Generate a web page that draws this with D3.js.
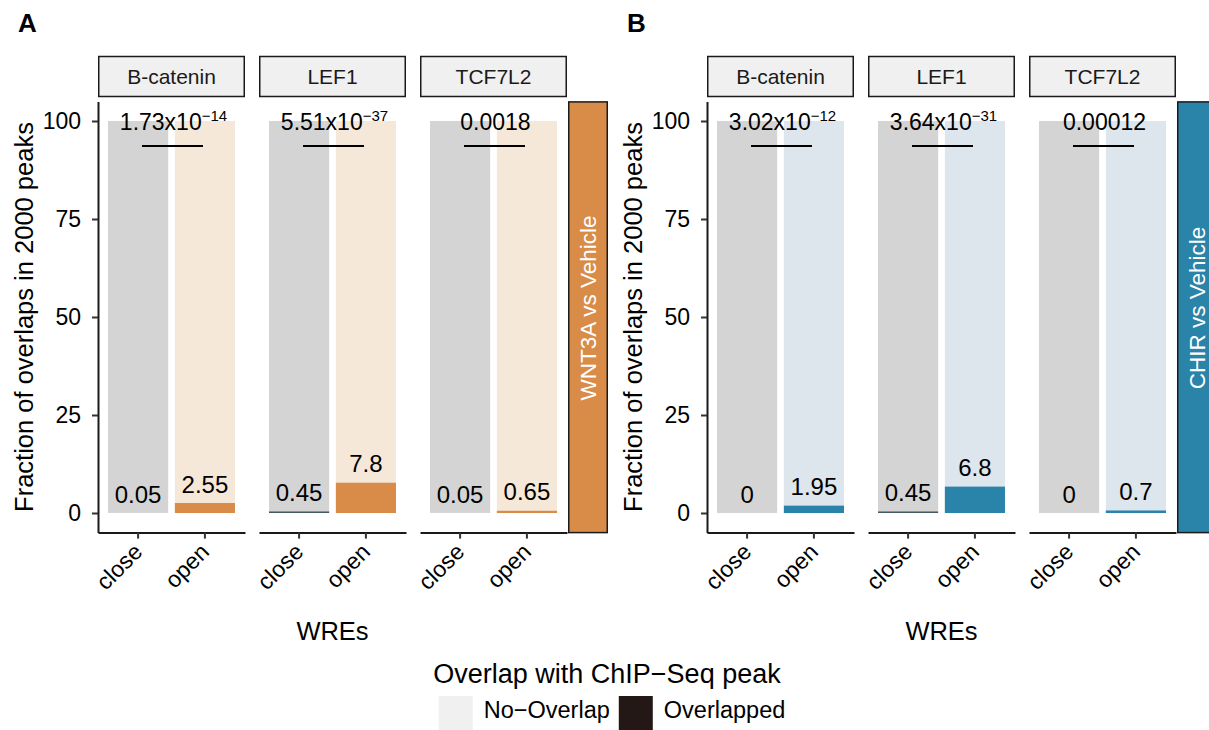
<!DOCTYPE html>
<html>
<head>
<meta charset="utf-8">
<script src="https://cdn.jsdelivr.net/npm/d3@7"></script>
<style>
  body { margin: 0; background: #fff; }
  svg { display: block; }
  text { font-family: "Liberation Sans", Arial, Helvetica, sans-serif; }
</style>
</head>
<body>
<svg id="chart" width="1209" height="730"></svg>
<script>
// ---- data ----
const factors = ["B-catenin", "LEF1", "TCF7L2"];
const wreStates = ["close", "open"];
const comparisons = ["WNT3A vs Vehicle", "CHIR vs Vehicle"];
const panelTags = ["A", "B"];
// percent of WREs overlapping a ChIP-Seq peak (top 2000 peaks), [close, open] per factor
const overlapWNT3A = [[0.05, 2.55], [0.45, 7.8], [0.05, 0.65]];
const overlapCHIR  = [[0, 1.95], [0.45, 6.8], [0, 0.7]];
const pvalWNT3A = ["1.73x10^-14", "5.51x10^-37", "0.0018"];
const pvalCHIR  = ["3.02x10^-12", "3.64x10^-31", "0.00012"];
const yTicks = [0, 25, 50, 75, 100];
const legendTitle = "Overlap with ChIP\u2212Seq peak";
const legendLabels = ["No\u2212Overlap", "Overlapped"];

// ---- styles ----
const palettes = [
  { closeBg: "#d4d4d4", openBg: "#f6e8d9", closeHit: "#455a60", openHit: "#d98b48", strip: "#d98b48" },
  { closeBg: "#d4d4d4", openBg: "#dde5ed", closeHit: "#455a60", openHit: "#2a83a9", strip: "#2a83a9" }
];
const legendFills = ["#f0f0f0", "#231815"];
const ink = "#1a1a1a";

const svg = d3.select("#chart");
const panels = [
  { tag: panelTags[0], label: comparisons[0], values: overlapWNT3A, pvals: pvalWNT3A, pal: palettes[0] },
  { tag: panelTags[1], label: comparisons[1], values: overlapCHIR, pvals: pvalCHIR, pal: palettes[1] }
];

const y = d3.scaleLinear().domain([-5, 105]).range([532.6, 101.4]);
const panelWidth = 609;

panels.forEach((P, pi) => {
  const off = pi * panelWidth;
  const g = svg.append("g");
  const left = 98 + off, right = 567 + off;

  const fx = d3.scaleBand().domain(factors).range([left, right]).paddingInner(14 / 161);
  const x = d3.scaleBand().domain(wreStates).range([0, fx.bandwidth()])
    .paddingInner(0.1).paddingOuter(0.15);

  // panel tag
  g.append("text").attr("x", 18 + off).attr("y", 32)
    .attr("font-size", 26).attr("font-weight", "bold").attr("fill", "#000").text(P.tag);

  factors.forEach((f, fi) => {
    const fg = g.append("g").attr("transform", `translate(${fx(f)},0)`);
    const rows = wreStates.map((w, wi) => ({ wre: w, hit: P.values[fi][wi], miss: 100 - P.values[fi][wi] }));
    const stacked = d3.stack().keys(["hit", "miss"])(rows);
    const fillFor = (key, wre) => key === "hit"
      ? (wre === "close" ? P.pal.closeHit : P.pal.openHit)
      : (wre === "close" ? P.pal.closeBg : P.pal.openBg);

    stacked.forEach(layer => {
      fg.selectAll(null).data(layer).join("rect")
        .attr("x", d => x(d.data.wre))
        .attr("width", x.bandwidth())
        .attr("y", d => y(d[1]))
        .attr("height", d => y(d[0]) - y(d[1]))
        .attr("fill", d => fillFor(layer.key, d.data.wre));
    });

    // percentage labels above the overlapped segment
    fg.selectAll(null).data(rows).join("text")
      .attr("x", d => x(d.wre) + x.bandwidth() / 2)
      .attr("y", d => y(d.hit) - 10)
      .attr("text-anchor", "middle").attr("font-size", 24).attr("fill", "#000")
      .text(d => d3.format("")(d.hit));

    // significance bracket + p-value
    const cMid = (x("close") + x("open") + x.bandwidth()) / 2;
    fg.append("line")
      .attr("x1", cMid - 29.5).attr("x2", cMid + 31.5)
      .attr("y1", y(100) + 25).attr("y2", y(100) + 25)
      .attr("stroke", "#000").attr("stroke-width", 2);
    const pv = P.pvals[fi];
    const pt = fg.append("text").attr("x", cMid + 2).attr("y", y(100) + 9)
      .attr("text-anchor", "middle").attr("font-size", 23).attr("fill", "#000");
    const m = pv.match(/^(.*)\^(-?\d+)$/);
    if (m) {
      pt.append("tspan").text(m[1]);
      pt.append("tspan").attr("font-size", 15).attr("dy", -9).text(m[2].replace("-", "\u2212"));
    } else {
      pt.text(pv);
    }

    // facet strip
    fg.append("rect").attr("x", 0.75).attr("y", 56.5).attr("width", fx.bandwidth() - 1.5).attr("height", 40)
      .attr("fill", "#f0f0f0").attr("stroke", ink).attr("stroke-width", 1.5);
    fg.append("text").attr("x", fx.bandwidth() / 2).attr("y", 76.5)
      .attr("text-anchor", "middle").attr("dominant-baseline", "central")
      .attr("font-size", 21).attr("fill", ink).text(f);

    // x axis
    const xa = fg.append("g").attr("transform", `translate(0,${y.range()[0]})`)
      .call(d3.axisBottom(x).tickSize(6).tickSizeOuter(0));
    xa.select(".domain").attr("stroke", ink).attr("stroke-width", 2);
    xa.selectAll(".tick line").attr("stroke", "#333").attr("stroke-width", 2);
    xa.selectAll(".tick text").remove();
    xa.selectAll(".tick").append("text")
      .attr("transform", "translate(-6,9) rotate(-45)")
      .attr("dy", "0.72em")
      .attr("text-anchor", "end").attr("font-size", 23).attr("fill", "#000")
      .text(d => d);
  });

  // y axis
  const ya = g.append("g").attr("transform", `translate(${left},0)`)
    .call(d3.axisLeft(y).tickValues(yTicks).tickSize(6).tickSizeOuter(0).tickPadding(11));
  ya.select(".domain").attr("stroke", ink).attr("stroke-width", 2);
  ya.selectAll(".tick line").attr("stroke", "#333").attr("stroke-width", 2);
  ya.selectAll(".tick text").attr("font-size", 23).attr("fill", "#000").attr("font-family", null);

  // side strip
  const sx = right + 1, sw = 40;
  g.append("rect").attr("x", sx + 0.75).attr("y", y.range()[1] + 0.5)
    .attr("width", sw - 1.5).attr("height", y.range()[0] - y.range()[1] - 0.5)
    .attr("fill", P.pal.strip).attr("stroke", ink).attr("stroke-width", 1.5);
  g.append("text")
    .attr("transform", `translate(${sx + sw / 2},308) rotate(-90)`)
    .attr("text-anchor", "middle").attr("dominant-baseline", "central")
    .attr("font-size", 22.5).attr("fill", "#fff").text(P.label);

  // axis titles
  g.append("text")
    .attr("transform", `translate(${33 + off},${(y.range()[0] + y.range()[1]) / 2}) rotate(-90)`)
    .attr("text-anchor", "middle").attr("font-size", 25.5).attr("fill", "#000")
    .text("Fraction of overlaps in 2000 peaks");
  g.append("text").attr("x", (left + right) / 2).attr("y", 640)
    .attr("text-anchor", "middle").attr("font-size", 25.5).attr("fill", "#000").text("WREs");
});

// ---- legend ----
const lg = svg.append("g");
const keySize = 34;
const tmp = lg.append("text").attr("font-size", 23.5);
const widths = legendLabels.map(l => { tmp.text(l); return tmp.node().getComputedTextLength(); });
tmp.remove();
const gapKeyText = 11, gapItems = 9;
const total = widths.reduce((s, w) => s + keySize + gapKeyText + w, 0) + gapItems;
let cx = 612 - total / 2;
legendLabels.forEach((l, i) => {
  lg.append("rect").attr("x", cx).attr("y", 696).attr("width", keySize).attr("height", keySize)
    .attr("fill", legendFills[i]);
  lg.append("text").attr("x", cx + keySize + gapKeyText).attr("y", 718)
    .attr("font-size", 23.5).attr("fill", "#000").text(l);
  cx += keySize + gapKeyText + widths[i] + gapItems;
});
lg.append("text").attr("x", 607).attr("y", 683).attr("text-anchor", "middle")
  .attr("font-size", 27).attr("fill", "#000").text(legendTitle);
</script>
</body>
</html>
